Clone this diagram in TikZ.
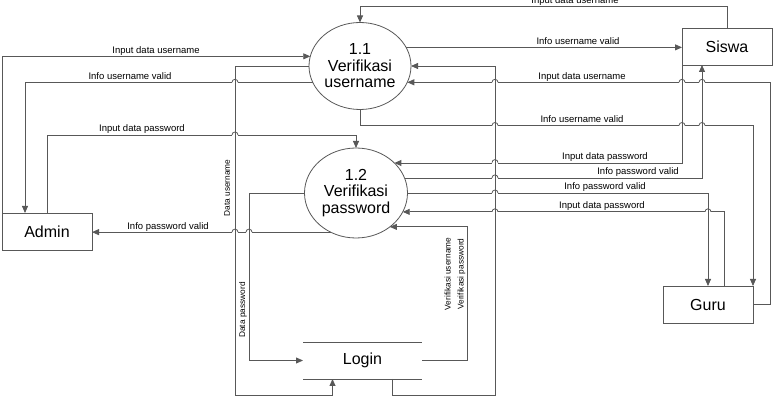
\documentclass[tikz,border=0pt]{standalone}
\usepackage{fontspec}
\setmainfont{Liberation Sans}
\usepackage{xcolor}
\usepackage{tikz}
\usetikzlibrary{shapes,arrows,arrows.meta,positioning}
\definecolor{wire}{RGB}{88,88,88}
\tikzset{>={Triangle[length=7pt,width=6pt]}}

\begin{document}
\begin{tikzpicture}[x=1pt,y=-1pt,
              entity/.style={draw=wire, line width=0.8pt, minimum width=90pt, minimum height=37pt, inner sep=0pt, outer sep=0pt, font=\fontsize{16}{18}\selectfont},
              proc/.style={ellipse, draw=wire, line width=0.8pt, inner sep=0pt, outer sep=0pt, align=center, font=\fontsize{16}{16.5}\selectfont},
              store/.style={minimum width=119pt, minimum height=37pt, inner sep=0pt, outer sep=0pt, font=\fontsize{16}{18}\selectfont},
              flow/.style={draw=wire, line width=0.8pt, ->},
              lbl/.style={anchor=base, inner sep=0pt, font=\fontsize{9.5}{11}\selectfont},
              vlbl/.style={rotate=90, inner sep=0pt, align=center, font=\fontsize{8.3}{13}\selectfont},
             ]
\useasboundingbox (0,0) rectangle (780,406);
\node[entity] (admin) at (47,231.5) {Admin};
\node[entity] (siswa) at (727,46.5) {Siswa};
\node[entity] (guru) at (708,304.5) {Guru};
\node[proc, minimum width=102pt, minimum height=87pt] (p11) at (360,66) {1.1\\Verifikasi\\username};
\node[proc, minimum width=103pt, minimum height=90pt] (p12) at (356,193) {1.2\\Verifikasi\\password};
\node[store] (login) at (362.5,360.5) {Login};
\draw[wire, line width=0.8pt] (login.north west) -- (login.north east) (login.south west) -- (login.south east);

\draw[flow] (admin.north west) |- (p11.169);
\draw[flow] (p11.199) -| ([xshift=23]admin.north west);
\draw[flow] (p11.west) -| (235,395) -| ([xshift=-30]login.south);
\draw[flow] (admin.north) |- ([yshift=13]p12.north) -- (p12.north);
\draw[flow] (p12.237) -- (p12.237 -| admin.east);
\draw[flow] (p12.west) -| ([xshift=-54]login.west) -- (login.west);
\draw[flow] (login.east) -| ([xshift=78]p12.315) -- (p12.315);
\draw[flow] ([xshift=30]login.south) -- ++(0,16) -| ([xshift=84]p11.east) -- (p11.east);
\draw[flow] (siswa.north) |- ([yshift=16]p11.north) -- (p11.north);
\draw[flow] (p11.22) -- (p11.22 -| siswa.west);
\draw[flow] (guru.east) -- ++(17,0) |- (p11.341);
\draw[flow] (p11.south) -- ++(0,16) -| (guru.north east);
\draw[flow] (siswa.south west) |- (p12.38);
\draw[flow] (p12.17) -| ([xshift=20]siswa.south west);
\draw[flow] (p12.east) -| (guru.north);
\draw[flow] ([xshift=16]guru.north) |- (p12.338);

\foreach \hx/\hy in {235/82.3, 235/135, 235/232.1, 249/232.1, 495/82.3, 682/82.3, 702/82.3, 495/125.5, 682/125.5, 702/125.5, 495/162.6, 495/177.9, 495/193, 495/211.8, 708/211.8}{
  \fill[white] (\hx-2.9,\hy-1.3) rectangle (\hx+2.9,\hy+1.3);
  \draw[wire, line width=0.8pt] (\hx,\hy-1.8) -- (\hx,\hy+1.8);
  \draw[wire, line width=0.8pt] (\hx-3,\hy) arc[start angle=180, end angle=360, radius=3];
}

\node[lbl] (t1) at (156,53.3) {Input data username};
\node[lbl] (t2) at (130,79.3) {Info username valid};
\node[lbl] (t3) at (142,132) {Input data password};
\node[lbl] (t4) at (168,229.1) {Info password valid};
\node[lbl] (t5) at (575,3.5) {Input data username};
\node[lbl] (t6) at (578,44.2) {Info username valid};
\node[lbl] (t7) at (582,79.3) {Input data username};
\node[lbl] (t8) at (582,122.5) {Info username valid};
\node[lbl] (t9) at (605,159.6) {Input data password};
\node[lbl] (t10) at (638,174.9) {Info password valid};
\node[lbl] (t11) at (605,190) {Info password valid};
\node[lbl] (t12) at (602,208.8) {Input data password};
\node[vlbl] (v1) at (227,188) {Data username};
\node[vlbl] (v2) at (243,310) {Data password};
\node[vlbl] (v3) at (455,274) {Verifikasi username\\Verifikasi password};
\end{tikzpicture}
\end{document}
